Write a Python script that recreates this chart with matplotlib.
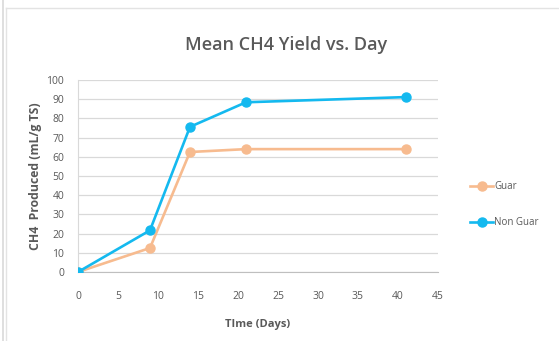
import matplotlib.pyplot as plt
from matplotlib.lines import Line2D

plt.rcParams['font.family'] = ['Open Sans', 'DejaVu Sans']

days = [0, 9, 14, 21, 41]
guar = [0, 12.5, 62.5, 64, 64]
non_guar = [0, 21.7, 75.6, 88.4, 91.1]

x_ticks = list(range(0, 50, 5))
y_ticks = list(range(0, 110, 10))

c_guar = '#F7BB8F'
c_non = '#14B9EF'
grey = '#595959'

fig = plt.figure(figsize=(5.59, 3.41), dpi=100)
ax = fig.add_axes([0.1395, 0.2023, 0.644, 0.5631])

ax.plot(days, guar, color=c_guar, lw=1.9, marker='o', ms=6.5, label='Guar', zorder=3)
ax.plot(days, non_guar, color=c_non, lw=1.9, marker='o', ms=6.5, label='Non Guar', zorder=4)

ax.set_xlim(0, 45)
ax.set_ylim(0, 100)
ax.set_xticks(x_ticks)
ax.set_yticks(y_ticks)
ax.grid(axis='y', color='#D9D9D9', lw=0.9)
ax.set_axisbelow(True)
for s in ['top', 'right']:
    ax.spines[s].set_visible(False)
ax.spines['left'].set_color('#D9D9D9')
ax.spines['bottom'].set_color('#BFBFBF')
ax.tick_params(axis='x', length=0, labelsize=7.5, colors=grey, pad=14)
ax.tick_params(axis='y', length=0, labelsize=7.5, colors=grey, pad=10)

fig.text(0.512, 0.868, 'Mean CH4 Yield vs. Day', fontsize=13, fontweight='semibold',
         color=grey, ha='center', va='center')
ax.set_xlabel('TIme (Days)', fontsize=8, fontweight='bold', color=grey, labelpad=12)
ax.set_ylabel('CH4  Produced (mL/g TS)', fontsize=8.8, fontweight='bold', color=grey, labelpad=3)

fig.legend(loc='center left', bbox_to_anchor=(0.825, 0.40), frameon=False, fontsize=7,
           labelcolor=grey, labelspacing=2.6, handlelength=2.4, handletextpad=0.1)

# outer frame lines
fig.add_artist(Line2D([0.006, 0.006], [0, 1], color='#D9D9D9', lw=1.2))
fig.add_artist(Line2D([0.011, 0.011], [0, 0.977], color='#E3E3E3', lw=1.0))
fig.add_artist(Line2D([0.011, 1], [0.977, 0.977], color='#E3E3E3', lw=1.0))

fig.savefig('out.png', dpi=100)
